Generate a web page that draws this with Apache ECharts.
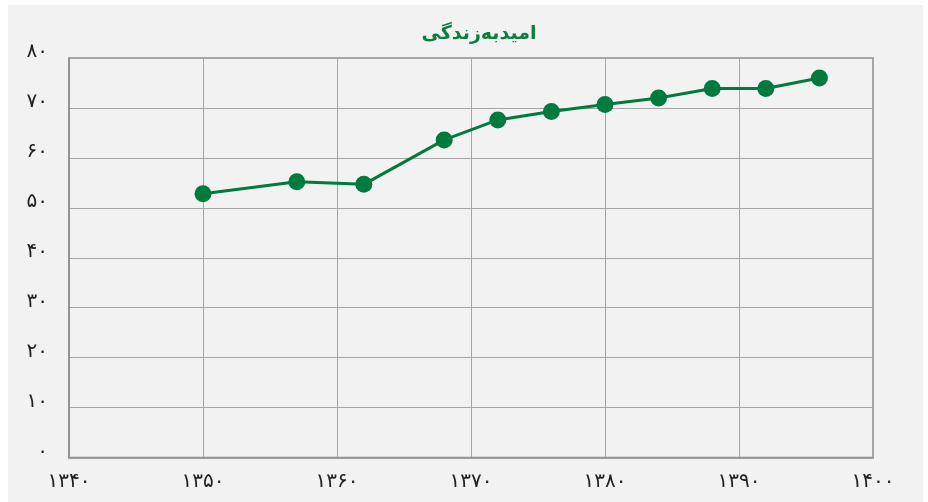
<!DOCTYPE html>
<html><head><meta charset="utf-8">
<script src="https://cdn.jsdelivr.net/npm/echarts@6/dist/echarts.min.js"></script>
<style>html,body{margin:0;padding:0;background:#fff}#c{width:928px;height:502px}</style>
</head><body><div id="c"></div>
<script>
const titleText = "امیدبه\u200cزندگی";
const years = [1350, 1357, 1362, 1368, 1372, 1376, 1380, 1384, 1388, 1392, 1396];
const lifeExpectancy = [52.8, 55.2, 54.7, 63.6, 67.6, 69.3, 70.7, 72.0, 73.9, 73.9, 76.0];
const xRange = [1340, 1400, 10];
const yRange = [0, 80, 10];
const faDigits = "۰۱۲۳۴۵۶۷۸۹";
const toFa = v => String(v).replace(/\d/g, d => faDigits[d]);

const chart = echarts.init(document.getElementById('c'));
chart.setOption({
  backgroundColor: '#ffffff',
  animation: false,
  graphic: [{
    type: 'rect', z: -10, silent: true,
    shape: {x: 8, y: 5, width: 915, height: 497},
    style: {fill: '#f2f2f2'}
  }],
  title: {
    text: titleText, left: 474, top: 20, textAlign: 'center',
    textStyle: {color: '#0a7f3f', fontSize: 19, fontWeight: 'bold', fontFamily: 'DejaVu Sans'}
  },
  grid: {left: 69, right: 55, top: 58, bottom: 44.5, show: true, borderColor: '#8c8c8c', borderWidth: 1.5, backgroundColor: 'transparent'},
  xAxis: {
    type: 'value', min: xRange[0], max: xRange[1], interval: xRange[2],
    axisLine: {show: true, lineStyle: {color: '#8c8c8c', width: 1.5}},
    axisTick: {show: false},
    splitLine: {show: true, lineStyle: {color: '#a6a6a6', width: 1}},
    axisLabel: {formatter: v => toFa(v), color: '#222', fontSize: 20, margin: 14, fontFamily: 'DejaVu Sans'}
  },
  yAxis: {
    type: 'value', min: yRange[0], max: yRange[1], interval: yRange[2],
    axisLine: {show: true, lineStyle: {color: '#8c8c8c', width: 1.5}},
    axisTick: {show: false},
    splitLine: {show: true, lineStyle: {color: '#a6a6a6', width: 1}},
    axisLabel: {formatter: v => toFa(v), color: '#222', fontSize: 20, margin: 21, fontFamily: 'DejaVu Sans', verticalAlign: 'bottom', lineHeight: 12}
  },
  series: [{
    type: 'line',
    data: years.map((y, i) => [y, lifeExpectancy[i]]),
    symbol: 'circle', symbolSize: 17,
    itemStyle: {color: '#007a3d'},
    lineStyle: {color: '#007a3d', width: 3}
  }]
});
</script></body></html>
